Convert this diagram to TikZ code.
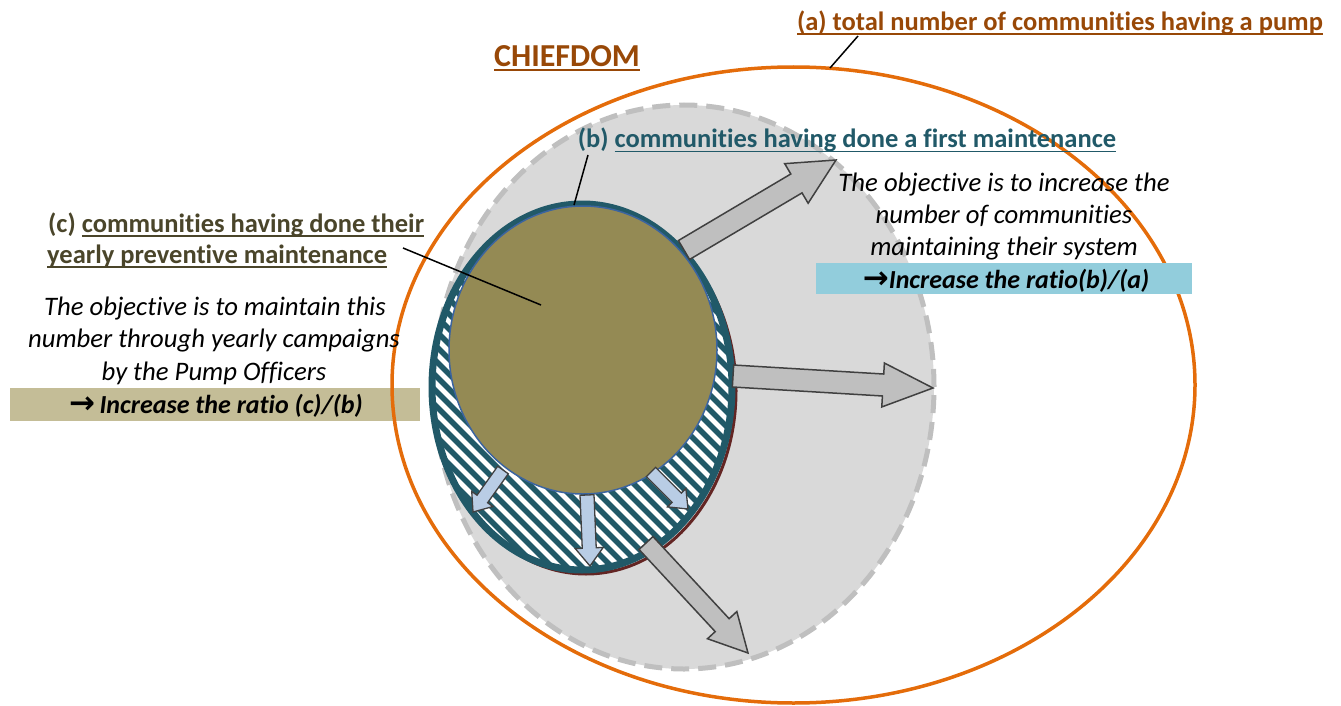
\documentclass[tikz,border=0pt]{standalone}
\usepackage{fontspec}
\setmainfont{Carlito}[Ligatures={NoCommon,NoRare,NoContextual}]
\newfontfamily\arrowfont{DejaVu Sans}
\usetikzlibrary{calc}

% underline drawn as a rule a few points under the baseline
\newcommand\ulbox[1]{\setbox0=\hbox{#1}\rlap{\rule[-4.5pt]{\wd0}{2pt}}\box0}
% heavy arrow in front of the ratio lines
\newcommand\ratioarrow{{\arrowfont\bfseries\fontsize{31}{32}\selectfont →}}

\definecolor{pumporange}{HTML}{E46C0A}
\definecolor{chieftxt}{HTML}{984807}
\definecolor{tealdark}{HTML}{215968}
\definecolor{olivetxt}{HTML}{4A452A}
\definecolor{boxtan}{HTML}{C4BD97}
\definecolor{boxblue}{HTML}{92CDDC}
\definecolor{khaki}{HTML}{948A54}
\definecolor{zonegray}{HTML}{D9D9D9}
\definecolor{dashgray}{HTML}{BFBFBF}
\definecolor{arrowedge}{HTML}{404040}
\definecolor{arrowblue}{HTML}{B9CDE5}
\definecolor{shadowred}{HTML}{632523}
\definecolor{rimblue}{HTML}{3B64A0}

\tikzset{
  lbl/.style={inner sep=0pt, font=\fontsize{26.5}{32}\selectfont\bfseries},
  body/.style={inner sep=0pt, font=\fontsize{26.7}{32}\selectfont\itshape},
  ratiotext/.style={inner sep=0pt, font=\fontsize{26}{32}\selectfont\bfseries\itshape},
  leader/.style={draw=black, line width=1.5pt},
  bigarrow/.style={fill=dashgray, draw=arrowedge, line width=1.5pt, line join=miter},
  smallarrow/.style={fill=arrowblue, draw=arrowedge, line width=1.3pt, line join=miter},
  stripe/.style={draw=tealdark, line width=5.5pt},
}

% block arrow: #1 style, #2 tail, #3 tip, #4 shaft half width, #5 head half width, #6 head length
\newcommand\blockarrow[6]{%
  \path let \p1=($(#3)-(#2)$) in \pgfextra{%
    \pgfmathsetmacro\baAng{atan2(\y1,\x1)}\xdef\baAng{\baAng}%
    \pgfmathsetmacro\baLen{veclen(\x1,\y1)}\xdef\baLen{\baLen}};
  \begin{scope}[shift={(#2)}, rotate=\baAng]
    \draw[#1] (0pt,-#4pt) -- ({\baLen pt-#6pt},-#4pt) -- ({\baLen pt-#6pt},-#5pt)
      -- ({\baLen pt},0pt) -- ({\baLen pt-#6pt},#5pt) -- ({\baLen pt-#6pt},#4pt)
      -- (0pt,#4pt) -- cycle;
  \end{scope}}

\begin{document}
\begin{tikzpicture}[x=1pt,y=-1pt]
\useasboundingbox (0,0) rectangle (1341,706);

% ratio box on the left, partly under the chiefdom outline
\fill[boxtan] (10,388) rectangle (420,421);

% chiefdom: all communities having a pump
\draw[pumporange, line width=3.5pt] (793.5,385) ellipse [x radius=401.5pt, y radius=318pt];

% communities having done a first maintenance (target zone)
\draw[fill=zonegray, draw=dashgray, line width=5pt, dash pattern=on 18pt off 9pt]
  (684,387) ellipse [x radius=250pt, y radius=282pt];

% current first-maintenance zone
\draw[shadowred, line width=3pt] (586,391) ellipse [x radius=150pt, y radius=183pt];
\begin{scope}
  \clip (582,387) ellipse [x radius=150pt, y radius=183pt];
  \fill[white] (400,180) rectangle (760,600);
  \foreach \c in {-180,-165,...,570}
    \draw[stripe] ({\c+130},130) -- ({\c+650},650);
\end{scope}
\draw[tealdark, line width=7pt] (582,387) ellipse [x radius=150pt, y radius=183pt];

% yearly preventive maintenance
\fill[khaki] (583,350) ellipse [x radius=134pt, y radius=144pt];
\draw[rimblue, line width=1.5pt] (583,350) ellipse [x radius=134pt, y radius=144pt];

% small growth arrows
\coordinate (sa1) at (503,470); \coordinate (sa1t) at (473,512);
\coordinate (sa2) at (587,495); \coordinate (sa2t) at (590,566);
\coordinate (sa3) at (651,472); \coordinate (sa3t) at (688,509);
\blockarrow{smallarrow}{sa1}{sa1t}{6.5}{13}{16}
\blockarrow{smallarrow}{sa2}{sa2t}{7}{14}{18}
\blockarrow{smallarrow}{sa3}{sa3t}{6.5}{13}{16}

% large growth arrows
\coordinate (ba1) at (684,250); \coordinate (ba1t) at (836,160);
\coordinate (ba2) at (733,376); \coordinate (ba2t) at (933,388);
\coordinate (ba3) at (646,543); \coordinate (ba3t) at (748,653);
\blockarrow{bigarrow}{ba1}{ba1t}{11}{23}{46}
\blockarrow{bigarrow}{ba2}{ba2t}{11}{22}{50}
\blockarrow{bigarrow}{ba3}{ba3t}{9.5}{20}{38}

% titles and labels
\node[lbl, text=chieftxt, font=\fontsize{32}{38}\selectfont\bfseries, anchor=base] (chiefdom) at (567,67) {\ulbox{CHIEFDOM}};
\node[lbl, text=chieftxt, anchor=base] (labA) at (1060,31) {\ulbox{(a) total number of communities having a pump}};
\node[lbl, text=tealdark, anchor=base] (labB) at (847,148) {(b) \ulbox{communities having done a first maintenance}};
\node[lbl, text=olivetxt, anchor=base west] (labC1) at (48,232) {(c) \ulbox{communities having done their}};
\node[lbl, text=olivetxt, anchor=base west] (labC2) at (47,263) {\ulbox{yearly preventive maintenance}};

% leader lines
\coordinate (edgeA) at (830,68);
\coordinate (edgeB) at (574,205);
\coordinate (insideC) at (541,305);
\coordinate (footA) at (858,36);
\coordinate (footB) at (588,155);
\coordinate (footC) at (403,248);
\draw[leader] (footA) -- (edgeA);
\draw[leader] (footB) -- (edgeB);
\draw[leader] (footC) -- (insideC);

% objective for (c)
\node[body, anchor=base] (objC1) at (215,315) {The objective is to maintain this};
\node[body, anchor=base] (objC2) at (214,347) {number through yearly campaigns};
\node[body, anchor=base] (objC3) at (214,380) {by the Pump Officers};
\node[ratiotext, anchor=base] (ratioC) at (216,413) {\ratioarrow\,Increase the ratio (c)/(b)};

% objective for (b)
\node[body, anchor=base] (objB1) at (1004,191) {The objective is to increase the};
\node[body, anchor=base] (objB2) at (1004,223) {number of communities};
\node[body, anchor=base] (objB3) at (1004,255) {maintaining their system};
\fill[boxblue] (816,263) rectangle (1192,294);
\node[ratiotext, anchor=base] (ratioB) at (1006,288) {\ratioarrow Increase the ratio(b)/(a)};
\end{tikzpicture}
\end{document}
